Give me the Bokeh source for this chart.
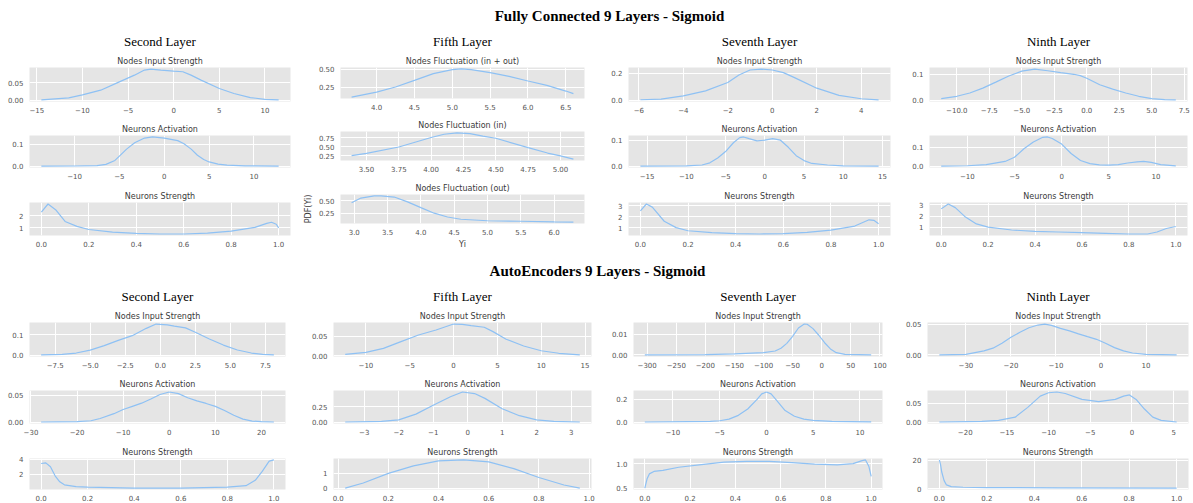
from bokeh.plotting import figure
from bokeh.layouts import row, column
from bokeh.models import Title, FixedTicker, Range1d
from bokeh.embed import file_html
from bokeh.resources import INLINE

# ---------------- titles ----------------
main_titles = ["Fully Connected 9 Layers - Sigmoid", "AutoEncoders 9 Layers - Sigmoid"]
layer_names = ["Second Layer", "Fifth Layer", "Seventh Layer", "Ninth Layer"]

# ---------------- Fully connected : data ----------------
fc2_in_x = [-14.5, -11.5, -10, -8, -6.2, -4.3, -3.2, -2.5, -1.4, 0, 1, 1.9, 3, 5, 6.6, 8.4, 10, 11.5]
fc2_in_y = [0.001, 0.0067, 0.0154, 0.0289, 0.050, 0.072, 0.0867, 0.0896, 0.0867, 0.0838, 0.0819, 0.0722, 0.0578, 0.0337, 0.0193, 0.0077, 0.0025, 0.0008]
fc2_act_x = [-13.7, -10, -7.5, -6.5, -5.5, -5, -4.2, -3.3, -2.2, -1.3, 0, 1.5, 2.2, 3, 3.7, 4.4, 5, 6, 7, 9, 12.75]
fc2_act_y = [0.0002, 0.0004, 0.002, 0.008, 0.026, 0.046, 0.078, 0.107, 0.129, 0.134, 0.129, 0.117, 0.103, 0.078, 0.05, 0.03, 0.019, 0.009, 0.004, 0.001, 0.0002]
fc2_str_x = [0, 0.028, 0.06, 0.1, 0.15, 0.2, 0.3, 0.4, 0.5, 0.6, 0.7, 0.8, 0.9, 0.95, 0.97, 0.99, 1.0]
fc2_str_y = [2.3, 2.97, 2.5, 1.53, 1.13, 0.87, 0.66, 0.55, 0.5, 0.5, 0.58, 0.74, 1.05, 1.37, 1.47, 1.3, 1.0]

fc5_both_x = [3.67, 4.0, 4.25, 4.5, 4.75, 5.0, 5.12, 5.25, 5.5, 5.75, 6.0, 6.25, 6.5, 6.6]
fc5_both_y = [0.108, 0.179, 0.25, 0.344, 0.439, 0.495, 0.505, 0.495, 0.453, 0.40, 0.335, 0.274, 0.193, 0.156]
fc5_in_x = [3.385, 3.5, 3.75, 4.0, 4.1, 4.2, 4.3, 4.4, 4.5, 4.75, 4.9, 5.0, 5.1]
fc5_in_y = [0.25, 0.31, 0.487, 0.75, 0.84, 0.88, 0.86, 0.79, 0.73, 0.47, 0.32, 0.24, 0.15]
fc5_out_x = [2.96, 3.1, 3.3, 3.4, 3.6, 3.8, 4.0, 4.2, 4.4, 4.6, 5.0, 5.5, 6.0, 6.29]
fc5_out_y = [0.456, 0.55, 0.594, 0.594, 0.57, 0.475, 0.36, 0.25, 0.175, 0.13, 0.10, 0.09, 0.078, 0.072]

fc7_in_x = [-5.93, -5, -4, -3, -2, -1.5, -1, -0.5, 0, 0.5, 1, 2, 3, 4, 4.78]
fc7_in_y = [0.0025, 0.007, 0.032, 0.069, 0.131, 0.188, 0.225, 0.232, 0.225, 0.205, 0.168, 0.089, 0.035, 0.01, 0.001]
fc7_act_x = [-15.85, -10, -8, -7, -6, -5, -4, -3.2, -2.7, -2, -1, 0, 1, 2, 3, 4, 5, 6, 8, 10, 14.5]
fc7_act_y = [0.0, 0.0005, 0.004, 0.0125, 0.031, 0.056, 0.09, 0.11, 0.1125, 0.106, 0.0975, 0.1, 0.106, 0.1, 0.0725, 0.04, 0.021, 0.01, 0.004, 0.001, 0.0]
fc7_str_x = [0, 0.025, 0.05, 0.1, 0.15, 0.2, 0.3, 0.4, 0.5, 0.6, 0.7, 0.8, 0.9, 0.96, 0.98, 1.0]
fc7_str_y = [2.52, 3.14, 2.86, 1.6, 1.03, 0.75, 0.58, 0.5, 0.46, 0.5, 0.61, 0.8, 1.17, 1.73, 1.68, 1.37]

fc9_in_x = [-11.2, -10, -9, -8, -7, -6, -5, -4, -3, -2, -1, -0.5, 0, 1, 2, 3, 4, 5, 6, 6.85]
fc9_in_y = [0.006, 0.015, 0.0275, 0.046, 0.069, 0.0925, 0.111, 0.119, 0.1125, 0.105, 0.099, 0.094, 0.084, 0.059, 0.0425, 0.0275, 0.015, 0.006, 0.0025, 0.001]
fc9_act_x = [-12.77, -10, -8, -6, -5, -4, -3, -2, -1.5, -1, 0, 1, 2, 3, 4, 5, 6, 7, 8, 8.7, 9.5, 10.5, 12.1]
fc9_act_y = [0.0005, 0.002, 0.008, 0.025, 0.047, 0.092, 0.128, 0.153, 0.155, 0.147, 0.117, 0.067, 0.03, 0.0133, 0.0067, 0.005, 0.008, 0.0167, 0.023, 0.025, 0.02, 0.008, 0.001]
fc9_str_x = [0, 0.03, 0.06, 0.1, 0.15, 0.2, 0.3, 0.4, 0.5, 0.6, 0.7, 0.8, 0.88, 0.92, 0.96, 1.0]
fc9_str_y = [2.65, 3.09, 2.76, 1.97, 1.29, 1.0, 0.74, 0.62, 0.56, 0.5, 0.44, 0.38, 0.38, 0.56, 0.88, 1.06]

# ---------------- AutoEncoders : data ----------------
ae2_in_x = [-8.5, -7, -6, -5, -4, -3, -2, -1, -0.3, 0.5, 1, 1.8, 2.5, 3.5, 4.5, 5.5, 6.5, 7.3, 8.1]
ae2_in_y = [0.0016, 0.004, 0.011, 0.025, 0.047, 0.073, 0.096, 0.132, 0.153, 0.149, 0.143, 0.134, 0.113, 0.08, 0.05, 0.026, 0.011, 0.004, 0.002]
ae2_act_x = [-27.8, -20, -17, -15, -12, -10, -8, -6, -4, -2, 0, 2, 4, 6, 8, 10, 12, 14, 16, 18, 20, 22.7]
ae2_act_y = [0.0, 0.0006, 0.0024, 0.0066, 0.0157, 0.0235, 0.0295, 0.0355, 0.0434, 0.0518, 0.0566, 0.0536, 0.0458, 0.0398, 0.035, 0.0295, 0.0217, 0.0127, 0.0054, 0.0018, 0.0006, 0.0]
ae2_str_x = [0, 0.02, 0.04, 0.06, 0.08, 0.1, 0.15, 0.2, 0.4, 0.6, 0.8, 0.88, 0.92, 0.95, 0.98, 1.0]
ae2_str_y = [3.44, 3.52, 3.0, 1.8, 1.0, 0.6, 0.36, 0.28, 0.16, 0.16, 0.28, 0.48, 1.2, 2.4, 3.76, 3.92]

ae5_in_x = [-12.36, -10, -8, -6, -4, -2, 0, 1, 2, 3.5, 4.5, 6, 8, 10, 12, 14.4]
ae5_in_y = [0.004, 0.009, 0.019, 0.036, 0.0525, 0.065, 0.08, 0.079, 0.076, 0.072, 0.061, 0.042, 0.025, 0.013, 0.0067, 0.0025]
ae5_act_x = [-3.55, -2.5, -2, -1.5, -1, -0.5, -0.15, 0.2, 0.5, 1, 1.5, 2, 2.5, 3.25]
ae5_act_y = [0.0, 0.01, 0.036, 0.13, 0.276, 0.417, 0.495, 0.469, 0.39, 0.219, 0.104, 0.036, 0.01, 0.0]
ae5_str_x = [0.028, 0.1, 0.2, 0.3, 0.4, 0.5, 0.6, 0.7, 0.8, 0.9, 0.963]
ae5_str_y = [0.02, 0.35, 0.98, 1.47, 1.8, 1.86, 1.73, 1.29, 0.71, 0.22, 0.02]

ae7_in_x = [-304, -200, -150, -100, -80, -70, -60, -50, -40, -30, -25, -15, -5, 5, 15, 25, 40, 85]
ae7_in_y = [0.0, 0.0002, 0.0005, 0.0011, 0.0019, 0.0032, 0.0056, 0.009, 0.013, 0.0149, 0.0148, 0.0127, 0.0095, 0.0059, 0.0029, 0.0011, 0.0003, 0.0]
ae7_act_x = [-13, -6, -5, -4, -3, -2, -1, -0.5, 0, 0.5, 1, 2, 3, 4, 5, 7, 11.2]
ae7_act_y = [0.0, 0.006, 0.011, 0.025, 0.059, 0.115, 0.2, 0.248, 0.265, 0.248, 0.2, 0.101, 0.051, 0.025, 0.014, 0.006, 0.001]
ae7_str_x = [0, 0.01, 0.02, 0.04, 0.08, 0.15, 0.25, 0.35, 0.45, 0.55, 0.65, 0.75, 0.85, 0.92, 0.96, 0.975, 0.99, 1.0]
ae7_str_y = [0.5, 0.69, 0.79, 0.84, 0.86, 0.925, 0.98, 1.03, 1.044, 1.044, 1.02, 0.99, 0.975, 1.0, 1.06, 1.075, 0.94, 0.74]

ae9_in_x = [-35.9, -30, -26, -24, -22, -20, -18, -16, -14, -12.5, -11, -9, -7, -5, -3, -1, 1, 3, 5, 7, 10, 16.8]
ae9_in_y = [0.0, 0.001, 0.0065, 0.011, 0.019, 0.0285, 0.0366, 0.044, 0.0484, 0.05, 0.0478, 0.043, 0.039, 0.034, 0.0296, 0.0253, 0.019, 0.0118, 0.0065, 0.0032, 0.001, 0.0]
ae9_act_x = [-23.1, -18, -16, -14, -12.5, -11, -10, -9, -8, -6, -4, -2, -1, -0.3, 0.5, 1.5, 2.5, 3.5, 5.36]
ae9_act_y = [0.0, 0.0018, 0.0044, 0.013, 0.0395, 0.07, 0.079, 0.081, 0.077, 0.061, 0.055, 0.061, 0.07, 0.073, 0.061, 0.035, 0.013, 0.0044, 0.0]
ae9_str_x = [0, 0.005, 0.01, 0.02, 0.03, 0.05, 0.1, 0.2, 0.5, 1.0]
ae9_str_y = [20.4, 17, 11.8, 5.7, 2.65, 1.4, 1.0, 0.8, 0.6, 0.4]

# ---------------- tick values and labels ----------------
t01 = [0.0, 0.2, 0.4, 0.6, 0.8, 1.0]
l01 = ["0.0", "0.2", "0.4", "0.6", "0.8", "1.0"]

fc2_in_xt, fc2_in_xl = [-15, -10, -5, 0, 5, 10], ["\u221215", "\u221210", "\u22125", "0", "5", "10"]
fc2_in_yt, fc2_in_yl = [0.0, 0.05], ["0.00", "0.05"]
fc2_act_xt, fc2_act_xl = [-10, -5, 0, 5, 10], ["\u221210", "\u22125", "0", "5", "10"]
fc2_act_yt, fc2_act_yl = [0.0, 0.1], ["0.0", "0.1"]
fc2_str_yt, fc2_str_yl = [1, 2], ["1", "2"]

fc5_both_xt, fc5_both_xl = [4.0, 4.5, 5.0, 5.5, 6.0, 6.5], ["4.0", "4.5", "5.0", "5.5", "6.0", "6.5"]
fc5_both_yt, fc5_both_yl = [0.25, 0.5], ["0.25", "0.50"]
fc5_in_xt, fc5_in_xl = [3.5, 3.75, 4.0, 4.25, 4.5, 4.75, 5.0], ["3.50", "3.75", "4.00", "4.25", "4.50", "4.75", "5.00"]
fc5_in_yt, fc5_in_yl = [0.25, 0.5, 0.75], ["0.25", "0.50", "0.75"]
fc5_out_xt, fc5_out_xl = [3.0, 3.5, 4.0, 4.5, 5.0, 5.5, 6.0], ["3.0", "3.5", "4.0", "4.5", "5.0", "5.5", "6.0"]
fc5_out_yt, fc5_out_yl = [0.25, 0.5], ["0.25", "0.50"]

fc7_in_xt, fc7_in_xl = [-6, -4, -2, 0, 2, 4], ["\u22126", "\u22124", "\u22122", "0", "2", "4"]
fc7_in_yt, fc7_in_yl = [0.0, 0.2], ["0.0", "0.2"]
fc7_act_xt, fc7_act_xl = [-15, -10, -5, 0, 5, 10, 15], ["\u221215", "\u221210", "\u22125", "0", "5", "10", "15"]
fc7_act_yt, fc7_act_yl = [0.0, 0.1], ["0.0", "0.1"]
fc7_str_yt, fc7_str_yl = [1, 2, 3], ["1", "2", "3"]

fc9_in_xt = [-10.0, -7.5, -5.0, -2.5, 0.0, 2.5, 5.0, 7.5]
fc9_in_xl = ["\u221210.0", "\u22127.5", "\u22125.0", "\u22122.5", "0.0", "2.5", "5.0", "7.5"]
fc9_in_yt, fc9_in_yl = [0.0, 0.1], ["0.0", "0.1"]
fc9_act_xt, fc9_act_xl = [-10, -5, 0, 5, 10], ["\u221210", "\u22125", "0", "5", "10"]
fc9_act_yt, fc9_act_yl = [0.0, 0.1], ["0.0", "0.1"]
fc9_str_yt, fc9_str_yl = [1, 2, 3], ["1", "2", "3"]

ae2_in_xt = [-7.5, -5.0, -2.5, 0.0, 2.5, 5.0, 7.5]
ae2_in_xl = ["\u22127.5", "\u22125.0", "\u22122.5", "0.0", "2.5", "5.0", "7.5"]
ae2_in_yt, ae2_in_yl = [0.0, 0.1], ["0.0", "0.1"]
ae2_act_xt, ae2_act_xl = [-30, -20, -10, 0, 10, 20], ["\u221230", "\u221220", "\u221210", "0", "10", "20"]
ae2_act_yt, ae2_act_yl = [0.0, 0.05], ["0.00", "0.05"]
ae2_str_yt, ae2_str_yl = [2, 4], ["2", "4"]

ae5_in_xt, ae5_in_xl = [-10, -5, 0, 5, 10, 15], ["\u221210", "\u22125", "0", "5", "10", "15"]
ae5_in_yt, ae5_in_yl = [0.0, 0.05], ["0.00", "0.05"]
ae5_act_xt, ae5_act_xl = [-3, -2, -1, 0, 1, 2, 3], ["\u22123", "\u22122", "\u22121", "0", "1", "2", "3"]
ae5_act_yt, ae5_act_yl = [0.0, 0.25], ["0.00", "0.25"]
ae5_str_yt, ae5_str_yl = [0, 1], ["0", "1"]

ae7_in_xt = [-300, -250, -200, -150, -100, -50, 0, 50, 100]
ae7_in_xl = ["\u2212300", "\u2212250", "\u2212200", "\u2212150", "\u2212100", "\u221250", "0", "50", "100"]
ae7_in_yt, ae7_in_yl = [0.0, 0.01], ["0.00", "0.01"]
ae7_act_xt, ae7_act_xl = [-10, -5, 0, 5, 10], ["\u221210", "\u22125", "0", "5", "10"]
ae7_act_yt, ae7_act_yl = [0.0, 0.2], ["0.0", "0.2"]
ae7_str_yt, ae7_str_yl = [0.5, 1.0], ["0.5", "1.0"]

ae9_in_xt, ae9_in_xl = [-30, -20, -10, 0, 10], ["\u221230", "\u221220", "\u221210", "0", "10"]
ae9_in_yt, ae9_in_yl = [0.0, 0.05], ["0.00", "0.05"]
ae9_act_xt, ae9_act_xl = [-20, -15, -10, -5, 0, 5], ["\u221220", "\u221215", "\u221210", "\u22125", "0", "5"]
ae9_act_yt, ae9_act_yl = [0.0, 0.05], ["0.00", "0.05"]
ae9_str_yt, ae9_str_yl = [0, 20], ["0", "20"]

# ---------------- style ----------------
LINE = "#8ec1f4"
PANEL_BG = "#e5e5e5"
TICK_COLOR = "#555555"
SUB_COLOR = "#3a3a3a"
SANS = "DejaVu Sans"
SERIF = "Liberation Serif"


def style_title(t, font, size, style, color, standoff):
    t.align = "center"
    t.text_font = font
    t.text_font_size = size
    t.text_font_style = style
    t.text_color = color
    t.standoff = standoff


def panel(x, y, title, xt, xl, yt, yl, L, F, R, T, H, B, layer=None, xlabel=None, ylabel=None):
    xmin, xmax = min(x), max(x)
    ymin, ymax = min(y), max(y)
    dx = (xmax - xmin) * 0.05
    dy = (ymax - ymin) * 0.05
    p = figure(width=L + F + R, height=T + H + B,
               x_range=Range1d(xmin - dx, xmax + dx), y_range=Range1d(ymin - dy, ymax + dy),
               toolbar_location=None, output_backend="svg",
               min_border_left=L, min_border_right=R, min_border_top=T, min_border_bottom=B,
               title=layer if layer else title)
    p.line(x, y, line_color=LINE, line_width=1.2)
    p.background_fill_color = PANEL_BG
    p.border_fill_color = "white"
    p.outline_line_color = None
    if layer:
        style_title(p.title, SERIF, "13px", "normal", "black", 7)
        sub = Title(text=title)
        style_title(sub, SANS, "8px", "normal", SUB_COLOR, 4)
        p.add_layout(sub, "above")
    else:
        style_title(p.title, SANS, "8px", "normal", SUB_COLOR, 4)
    p.xaxis.ticker = FixedTicker(ticks=xt, minor_ticks=[])
    p.yaxis.ticker = FixedTicker(ticks=yt, minor_ticks=[])
    p.xaxis.major_label_overrides = dict(zip(xt, xl))
    p.yaxis.major_label_overrides = dict(zip(yt, yl))
    for ax in (p.xaxis[0], p.yaxis[0]):
        ax.axis_line_color = None
        ax.major_tick_line_color = None
        ax.minor_tick_line_color = None
        ax.major_tick_out = 0
        ax.major_tick_in = 0
        ax.minor_tick_out = 0
        ax.minor_tick_in = 0
        ax.major_label_text_font = SANS
        ax.major_label_text_font_size = "7px"
        ax.major_label_text_color = TICK_COLOR
        ax.axis_label_text_font = SANS
        ax.axis_label_text_font_size = "8px"
        ax.axis_label_text_font_style = "normal"
        ax.axis_label_text_color = SUB_COLOR
    p.xaxis.major_label_standoff = 5
    p.yaxis.major_label_standoff = 6
    if xlabel:
        p.xaxis.axis_label = xlabel
        p.xaxis.axis_label_standoff = 2
    if ylabel:
        p.yaxis.axis_label = ylabel
        p.yaxis.axis_label_standoff = 3
    p.grid.grid_line_color = "white"
    p.grid.grid_line_width = 1
    return p


def title_fig(text, width, left):
    p = figure(width=width, height=25, toolbar_location=None, output_backend="svg",
               x_axis_location=None, y_axis_location=None,
               min_border_left=left, min_border_right=0, min_border_top=23, min_border_bottom=0,
               title=text)
    style_title(p.title, SERIF, "15px", "bold", "black", 0)
    p.outline_line_color = None
    p.grid.visible = False
    p.background_fill_color = "white"
    return p


# vertical structure (T, H, B) of the three panels in a column
STD_TOP = [(42, 34, 19), (14, 33, 20), (14, 34, 20)]
FIFTH_TOP = [(42, 31, 18), (14, 30, 19), (14, 30, 32)]
STD_BOT = [(42, 34, 19), (14, 34, 20), (14, 33, 13)]
# horizontal structure (L, F, R) per column
TOP_COLS = [(29, 261, 10), (35, 249, 14), (30, 262, 10), (29, 258, 6)]
BOT_COLS = [(29, 256, 15), (33, 258, 9), (33, 249, 13), (32, 261, 5)]

fc_specs = [
    [(fc2_in_x, fc2_in_y, "Nodes Input Strength", fc2_in_xt, fc2_in_xl, fc2_in_yt, fc2_in_yl, None, None),
     (fc2_act_x, fc2_act_y, "Neurons Activation", fc2_act_xt, fc2_act_xl, fc2_act_yt, fc2_act_yl, None, None),
     (fc2_str_x, fc2_str_y, "Neurons Strength", t01, l01, fc2_str_yt, fc2_str_yl, None, None)],
    [(fc5_both_x, fc5_both_y, "Nodes Fluctuation (in + out)", fc5_both_xt, fc5_both_xl, fc5_both_yt, fc5_both_yl, None, None),
     (fc5_in_x, fc5_in_y, "Nodes Fluctuation (in)", fc5_in_xt, fc5_in_xl, fc5_in_yt, fc5_in_yl, None, None),
     (fc5_out_x, fc5_out_y, "Nodes Fluctuation (out)", fc5_out_xt, fc5_out_xl, fc5_out_yt, fc5_out_yl, "Yi", "PDF(Yi)")],
    [(fc7_in_x, fc7_in_y, "Nodes Input Strength", fc7_in_xt, fc7_in_xl, fc7_in_yt, fc7_in_yl, None, None),
     (fc7_act_x, fc7_act_y, "Neurons Activation", fc7_act_xt, fc7_act_xl, fc7_act_yt, fc7_act_yl, None, None),
     (fc7_str_x, fc7_str_y, "Neurons Strength", t01, l01, fc7_str_yt, fc7_str_yl, None, None)],
    [(fc9_in_x, fc9_in_y, "Nodes Input Strength", fc9_in_xt, fc9_in_xl, fc9_in_yt, fc9_in_yl, None, None),
     (fc9_act_x, fc9_act_y, "Neurons Activation", fc9_act_xt, fc9_act_xl, fc9_act_yt, fc9_act_yl, None, None),
     (fc9_str_x, fc9_str_y, "Neurons Strength", t01, l01, fc9_str_yt, fc9_str_yl, None, None)],
]
ae_specs = [
    [(ae2_in_x, ae2_in_y, "Nodes Input Strength", ae2_in_xt, ae2_in_xl, ae2_in_yt, ae2_in_yl, None, None),
     (ae2_act_x, ae2_act_y, "Neurons Activation", ae2_act_xt, ae2_act_xl, ae2_act_yt, ae2_act_yl, None, None),
     (ae2_str_x, ae2_str_y, "Neurons Strength", t01, l01, ae2_str_yt, ae2_str_yl, None, None)],
    [(ae5_in_x, ae5_in_y, "Nodes Input Strength", ae5_in_xt, ae5_in_xl, ae5_in_yt, ae5_in_yl, None, None),
     (ae5_act_x, ae5_act_y, "Neurons Activation", ae5_act_xt, ae5_act_xl, ae5_act_yt, ae5_act_yl, None, None),
     (ae5_str_x, ae5_str_y, "Neurons Strength", t01, l01, ae5_str_yt, ae5_str_yl, None, None)],
    [(ae7_in_x, ae7_in_y, "Nodes Input Strength", ae7_in_xt, ae7_in_xl, ae7_in_yt, ae7_in_yl, None, None),
     (ae7_act_x, ae7_act_y, "Neurons Activation", ae7_act_xt, ae7_act_xl, ae7_act_yt, ae7_act_yl, None, None),
     (ae7_str_x, ae7_str_y, "Neurons Strength", t01, l01, ae7_str_yt, ae7_str_yl, None, None)],
    [(ae9_in_x, ae9_in_y, "Nodes Input Strength", ae9_in_xt, ae9_in_xl, ae9_in_yt, ae9_in_yl, None, None),
     (ae9_act_x, ae9_act_y, "Neurons Activation", ae9_act_xt, ae9_act_xl, ae9_act_yt, ae9_act_yl, None, None),
     (ae9_str_x, ae9_str_y, "Neurons Strength", t01, l01, ae9_str_yt, ae9_str_yl, None, None)],
]


def build_half(specs, cols, vert_list, title_text, title_left):
    columns = []
    for ci, (colspec, (L, F, R)) in enumerate(zip(specs, cols)):
        vert = vert_list[ci]
        figs = []
        for ri, (x, y, t, xt, xl, yt, yl, xlab, ylab) in enumerate(colspec):
            T, H, B = vert[ri]
            figs.append(panel(x, y, t, xt, xl, yt, yl, L, F, R, T, H, B,
                              layer=layer_names[ci] if ri == 0 else None,
                              xlabel=xlab, ylabel=ylab))
        columns.append(column(*figs, spacing=0))
    total_w = sum(L + F + R for (L, F, R) in cols)
    return column(title_fig(title_text, total_w, title_left), row(*columns, spacing=0), spacing=0)


top = build_half(fc_specs, TOP_COLS, [STD_TOP, FIFTH_TOP, STD_TOP, STD_TOP], main_titles[0], 25)
bottom = build_half(ae_specs, BOT_COLS, [STD_BOT, STD_BOT, STD_BOT, STD_BOT], main_titles[1], 1)
layout = column(top, bottom, spacing=0)

open("out.html", "w").write(file_html(layout, INLINE))
